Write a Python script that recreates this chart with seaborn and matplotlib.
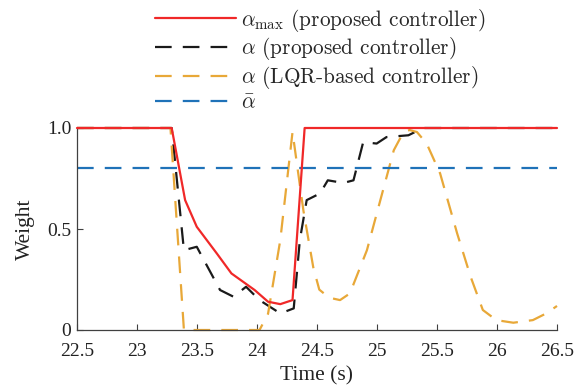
import matplotlib
matplotlib.use("Agg")
import matplotlib.pyplot as plt
from matplotlib.font_manager import FontProperties
import seaborn as sns
import pandas as pd

# ---- data ----
t_max = [22.5, 23.289, 23.401, 23.498, 23.665, 23.787, 23.98, 24.092, 24.194, 24.296, 24.397, 26.5]
a_max = [1.0, 1.0, 0.643, 0.511, 0.379, 0.28, 0.198, 0.14, 0.128, 0.148, 1.0, 1.0]

t_prop = [22.5, 23.289, 23.391, 23.498, 23.692, 23.803, 23.909, 24.021, 24.194, 24.306, 24.357,
          24.414, 24.525, 24.59, 24.72, 24.804, 24.885, 24.997, 25.079, 25.262, 25.384, 26.5]
a_prop = [1.0, 1.0, 0.395, 0.412, 0.198, 0.165, 0.214, 0.148, 0.082, 0.107, 0.445,
          0.643, 0.676, 0.741, 0.728, 0.741, 0.93, 0.923, 0.955, 0.964, 1.0, 1.0]

t_lqr = [22.5, 23.279, 23.391, 24.021, 24.092, 24.194, 24.296, 24.387, 24.469, 24.519, 24.601,
         24.692, 24.774, 24.916, 25.028, 25.14, 25.221, 25.272, 25.333, 25.414, 25.526, 25.668,
         25.78, 25.882, 25.994, 26.136, 26.299, 26.41, 26.5]
a_lqr = [1.0, 1.0, 0.0, 0.0, 0.08, 0.445, 0.98, 0.59, 0.31, 0.2, 0.16,
         0.148, 0.181, 0.395, 0.643, 0.89, 0.98, 0.99, 0.98, 0.923, 0.775, 0.478,
         0.264, 0.099, 0.049, 0.036, 0.049, 0.082, 0.119]

t_bar = [22.5, 26.5]
a_bar = [0.8, 0.8]

labels = [r"$\alpha_{\mathrm{max}}$ (proposed controller)",
          r"$\alpha$ (proposed controller)",
          r"$\alpha$ (LQR-based controller)",
          r"$\bar{\alpha}$"]

x_ticks = [22.5, 23, 23.5, 24, 24.5, 25, 25.5, 26, 26.5]
x_ticklabels = ["22.5", "23", "23.5", "24", "24.5", "25", "25.5", "26", "26.5"]
y_ticks = [0, 0.5, 1.0]
y_ticklabels = ["0", "0.5", "1.0"]

# ---- style ----
sns.set_theme(style="ticks")
plt.rcParams["font.family"] = ["Liberation Serif", "DejaVu Serif"]
plt.rcParams["mathtext.fontset"] = "cm"

fig = plt.figure(figsize=(5.84, 3.90), dpi=100)
ax = fig.add_axes([77/584, 60/390, 480/584, 202/390])

dash = (7.5, 5)
series = [
    (t_max, a_max, "#f02828", None),
    (t_prop, a_prop, "#1a1a1a", dash),
    (t_lqr, a_lqr, "#E8A838", dash),
    (t_bar, a_bar, "#1f72b8", dash),
]
for (t, a, c, d), lab in zip(series, labels):
    df = pd.DataFrame({"t": t, "a": a})
    sns.lineplot(data=df, x="t", y="a", ax=ax, color=c, lw=1.6, label=lab,
                 estimator=None, sort=False)
    ln = ax.lines[-1]
    ln.set_clip_on(False)
    if d is not None:
        ln.set_dashes(d)

ax.lines[0].set_zorder(3)

ax.set_xlim(22.5, 26.5)
ax.set_ylim(0, 1.0)
ax.set_xticks(x_ticks)
ax.set_xticklabels(x_ticklabels)
ax.set_yticks(y_ticks)
ax.set_yticklabels(y_ticklabels)
ax.tick_params(direction="in", length=4, width=0.8, colors="#404040",
               labelcolor="#222222", labelsize=14)
ax.tick_params(axis="x", pad=9)
ax.tick_params(axis="y", pad=4)
for s in ["top", "right"]:
    ax.spines[s].set_visible(False)
for s in ["left", "bottom"]:
    ax.spines[s].set_color("#404040")
    ax.spines[s].set_linewidth(0.9)

ax.set_xlabel("Time (s)", fontsize=15.5, color="#222222", labelpad=5)
ax.set_ylabel("Weight", fontsize=15.5, color="#222222", labelpad=9)

ax.legend_.remove()
handles = ax.lines[:4]
fig.legend(handles, labels, loc="center left", bbox_to_anchor=(155/584, 1 - 59.5/390),
           frameon=False, prop=FontProperties(family="cmr10", size=15.3),
           handlelength=3.8, handletextpad=0.25,
           labelspacing=0.08, borderpad=0, borderaxespad=0)

fig.savefig("out.png", dpi=100)
